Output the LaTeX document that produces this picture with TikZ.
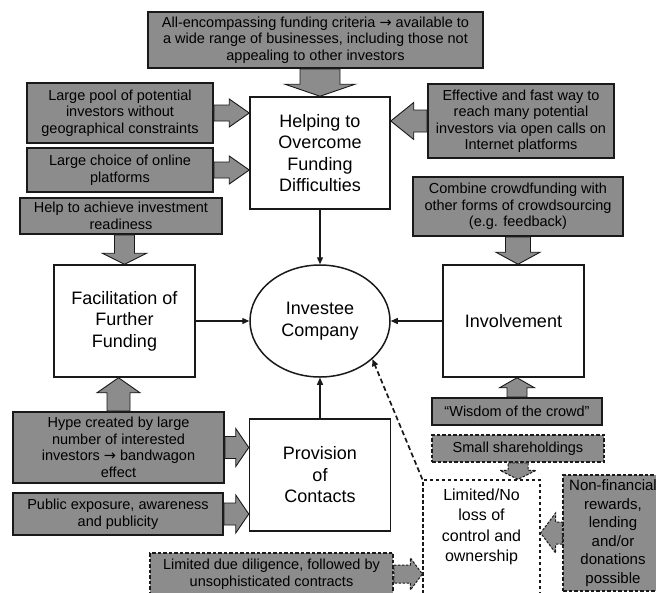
\documentclass[tikz,border=0pt]{standalone}
\usepackage{fontspec}
\setmainfont{Liberation Sans}
\newfontfamily\arrfont{DejaVu Sans}
\usetikzlibrary{calc,arrows.meta,shapes.geometric}
\definecolor{gfill}{RGB}{140,140,140}
\definecolor{dk}{RGB}{25,25,25}
\newcommand\rarr{{\arrfont →}}
\newcommand\barrow[6][]{%
  \coordinate (bA) at (#2);
  \coordinate (bB) at (#3);
  \coordinate (bC) at ($(bB)!#6pt!(bA)$);
  \draw[blockarr,#1] ($(bA)!#4pt!90:(bB)$) -- ($(bC)!#4pt!90:(bB)$) -- ($(bC)!#5pt!90:(bB)$) -- (bB) -- ($(bC)!#5pt!-90:(bB)$) -- ($(bC)!#4pt!-90:(bB)$) -- ($(bA)!#4pt!-90:(bB)$) -- cycle;
}
\begin{document}
\begin{tikzpicture}[x=1pt,y=-1pt,
  mainbox/.style={draw=dk, line width=1.5pt, fill=white, align=center, inner sep=0pt, font=\fontsize{18}{21.5}\selectfont},
  greybox/.style={draw=dk, line width=1.7pt, fill=gfill, align=center, inner sep=0pt, font=\fontsize{14.5}{16.5}\selectfont},
  dgrey/.style={greybox, dash pattern=on 3.5pt off 2pt, line width=1.5pt},
  limbox/.style={draw=dk, line width=1.2pt, dash pattern=on 3.5pt off 2.5pt, fill=white, align=center, inner sep=0pt, font=\fontsize{16}{20.5}\selectfont},
  sz/.style 2 args={minimum width=#1pt, minimum height=#2pt},
  blockarr/.style={draw=dk, line width=0.9pt, fill=gfill, line join=miter},
  dblockarr/.style={blockarr, dash pattern=on 2.5pt off 1.5pt, line width=1pt},
  conn/.style={draw=dk, line width=1.3pt, -{Triangle[length=7pt,width=6pt]}},
  dconn/.style={conn, line width=1.7pt, dash pattern=on 5pt off 3pt}
]
\useasboundingbox (0,0) rectangle (656,592);
\clip (0,0) rectangle (656,592);
\fill[white] (0,0) rectangle (656,592);

\node[greybox, sz={335}{56}] (top) at (315.5,40) {All-encompassing funding criteria \rarr{} available to\\a wide range of businesses, including those not\\appealing to other investors};
\node[greybox, sz={186}{60}] (pool) at (120,113) {Large pool of potential\\investors without\\geographical constraints};
\node[greybox, sz={186}{44}] (choice) at (120,170) {Large choice of online\\platforms};
\node[greybox, sz={202}{36}] (help) at (121,216) {Help to achieve investment\\readiness};
\node[greybox, sz={186}{74}] (eff) at (521,121) {Effective and fast way to\\reach many potential\\investors via open calls on\\Internet platforms};
\node[greybox, sz={210}{59}] (comb) at (518,206.5) {Combine crowdfunding with\\other forms of crowdsourcing\\(e.g. feedback)};
\node[mainbox, sz={140}{112}] (helping) at (320,153) {Helping to\\Overcome\\Funding\\Difficulties};
\node[mainbox, sz={141}{112}] (facil) at (124.5,321) {Facilitation of\\Further\\Funding};
\node[mainbox, ellipse, sz={140}{112}] (circ) at (320,321) {Investee\\Company};
\node[mainbox, sz={141}{112}] (invol) at (513.5,321) {Involvement};
\node[mainbox, sz={141}{112}] (prov) at (320,475) {Provision\\of\\Contacts};
\node[greybox, sz={170}{27}] (wis) at (517,411.5) {“Wisdom of the crowd”};
\node[dgrey, sz={172}{27}] (small) at (518,448.5) {Small shareholdings};
\node[greybox, sz={211}{71}] (hype) at (118.5,447.5) {Hype created by large\\number of interested\\investors \rarr{} bandwagon\\effect};
\node[greybox, sz={210}{42}] (pub) at (118,514) {Public exposure, awareness\\and publicity};
\node[dgrey, sz={243}{42}] (ldd) at (271.5,574) {Limited due diligence, followed by\\unsophisticated contracts};
\node[limbox, sz={117}{130}] (lim) at (481.5,545) {\begin{tabular}{@{}c@{}}Limited/No\\loss of\\control and\\ownership\\[36pt]\end{tabular}};
\node[dgrey, sz={100}{116}, font=\fontsize{15}{18.5}\selectfont] (nonfin) at (613,533) {Non-financial\\rewards,\\lending\\and/or\\donations\\possible};

\barrow{top.south -| helping.north}{helping.north}{20}{35}{12}
\barrow{pool.east}{helping.west |- pool.east}{8}{14}{20}
\barrow{choice.east}{helping.west |- choice.east}{8}{14}{20}
\barrow{eff.west}{helping.east |- eff.west}{11}{18.5}{23}
\barrow{help.south -| facil.north}{facil.north}{10}{22}{11}
\barrow{comb.south}{invol.north -| comb.south}{12.5}{22}{12}
\barrow{hype.north}{facil.south -| hype.north}{11.5}{21.5}{15}
\barrow{hype.east}{prov.west |- hype.east}{11}{19}{13}
\barrow{pub.east}{prov.west |- pub.east}{11}{19}{13}
\barrow{wis.north}{invol.south -| wis.north}{10}{17.5}{10}
\barrow[dblockarr]{small.south}{lim.north -| small.south}{10}{18}{9}
\barrow[dblockarr]{nonfin.west}{lim.east |- nonfin.west}{11}{20}{15}
\barrow[dblockarr]{ldd.east}{lim.west |- ldd.east}{9}{16}{12}

\draw[conn] (helping.south) -- (circ.north);
\draw[conn] (facil.east) -- (circ.west);
\draw[conn] (invol.west) -- (circ.east);
\draw[conn] (prov.north) -- (circ.south);
\draw[dconn] (lim.north west) -- (circ.-36);
\end{tikzpicture}
\end{document}
